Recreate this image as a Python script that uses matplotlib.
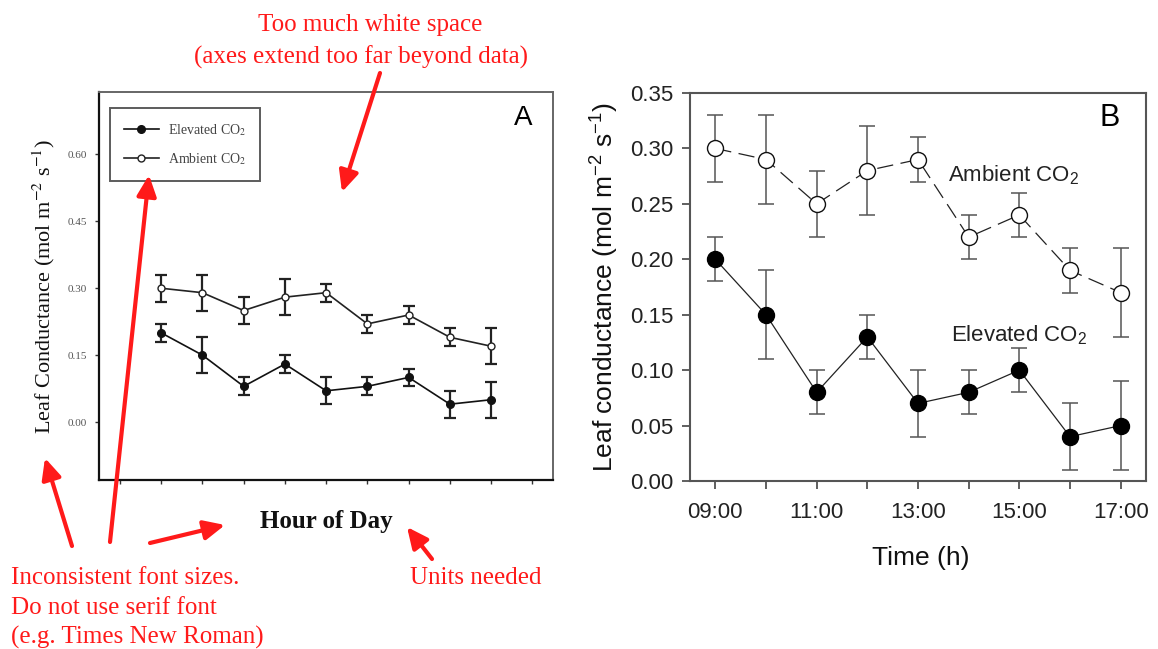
import matplotlib
matplotlib.use('Agg')
import matplotlib.pyplot as plt
from matplotlib.font_manager import FontProperties
import numpy as np

# ---------------- data ----------------
hours = [9, 10, 11, 12, 13, 14, 15, 16, 17]
hour_labels = ['09:00', '', '11:00', '', '13:00', '', '15:00', '', '17:00']
elevated = [0.20, 0.15, 0.08, 0.13, 0.07, 0.08, 0.10, 0.04, 0.05]
elevated_err = [0.02, 0.04, 0.02, 0.02, 0.03, 0.02, 0.02, 0.03, 0.04]
ambient = [0.30, 0.29, 0.25, 0.28, 0.29, 0.22, 0.24, 0.19, 0.17]
ambient_err = [0.03, 0.04, 0.03, 0.04, 0.02, 0.02, 0.02, 0.02, 0.04]
a_yticks = [0.00, 0.15, 0.30, 0.45, 0.60]
b_yticks = [0.00, 0.05, 0.10, 0.15, 0.20, 0.25, 0.30, 0.35]

SERIF = 'Liberation Serif'
SANS = 'Liberation Sans'
plt.rcParams['mathtext.fontset'] = 'custom'
plt.rcParams['mathtext.rm'] = SANS
plt.rcParams['mathtext.it'] = SANS + ':italic'
plt.rcParams['mathtext.bf'] = SANS + ':bold'

W, H = 1158, 649
fig = plt.figure(figsize=(W / 100, H / 100), dpi=100)


def rect(l, t, r, b):
    return [l / W, 1 - b / H, (r - l) / W, (b - t) / H]


# ---------------- Panel A ----------------
axA = fig.add_axes(rect(99.3, 92, 553, 480))
xa = np.arange(1, len(hours) + 1)
axA.errorbar(xa, ambient, yerr=ambient_err, fmt='none', ecolor='#222222',
             elinewidth=1.6, capsize=4.3, capthick=1.6, zorder=2)
axA.errorbar(xa, elevated, yerr=elevated_err, fmt='none', ecolor='#222222',
             elinewidth=1.6, capsize=4.3, capthick=1.6, zorder=2)
lA, = axA.plot(xa, ambient, '-o', color='#222222', lw=1.2, ms=5,
               mfc='white', mec='#222222', mew=1.0, zorder=3)
lE, = axA.plot(xa, elevated, '-o', color='#111111', lw=1.2, ms=5.5,
               mfc='#111111', mec='#111111', zorder=3)
axA.set_xlim(-0.5, len(hours) + 1.5)
axA.set_ylim(-0.13, 0.74)
axA.set_xticks(np.arange(0, len(hours) + 2))
axA.set_xticklabels([])
axA.set_yticks(a_yticks)
axA.set_yticklabels(['%.2f' % v for v in a_yticks], fontfamily=SERIF,
                    fontsize=8, color='#555555')
axA.tick_params(direction='out', length=3, width=1, colors='#333333',
                labelcolor='#555555', pad=6)
for s in ['left', 'bottom']:
    axA.spines[s].set_color('#111111')
    axA.spines[s].set_linewidth(1.6)
for s in ['top', 'right']:
    axA.spines[s].set_color('#666666')
    axA.spines[s].set_linewidth(1.4)
axA.set_ylabel('Leaf Conductance (mol m$^{-2}$ s$^{-1}$)', fontfamily=SERIF,
               fontsize=16, color='#111111', va='center', math_fontfamily='stix')
axA.yaxis.set_label_coords(-0.122, 0.5)
axA.set_xlabel('Hour of Day', fontfamily=SERIF, fontsize=18, fontweight='bold',
               color='#111111', va='center')
axA.xaxis.set_label_coords(0.5, -0.108)
leg_font = FontProperties(family=SERIF, size=10, math_fontfamily='stix')
leg = axA.legend([lE, lA], ['Elevated CO$_2$', 'Ambient CO$_2$'],
                 loc='upper left', bbox_to_anchor=(0.0236, 0.9588),
                 borderaxespad=0, frameon=True, fancybox=False,
                 edgecolor='#333333', prop=leg_font, numpoints=1,
                 handlelength=2.5, handletextpad=0.65, labelspacing=0.95,
                 borderpad=1.0, labelcolor='#444444')
leg.get_frame().set_linewidth(1.4)
axA.text(0.934, 0.933, 'A', transform=axA.transAxes, fontfamily=SANS,
         fontsize=20, ha='center', va='center', color='black')

# ---------------- Panel B ----------------
axB = fig.add_axes(rect(690, 93, 1146, 481))
axB.errorbar(hours, ambient, yerr=ambient_err, fmt='none', ecolor='#555555',
             elinewidth=1.1, capsize=6, capthick=1.1, zorder=2)
axB.errorbar(hours, elevated, yerr=elevated_err, fmt='none', ecolor='#555555',
             elinewidth=1.1, capsize=6, capthick=1.1, zorder=2)
axB.plot(hours, ambient, color='#222222', lw=0.9, ls=(0, (13, 6)),
         marker='o', ms=11.5, mfc='white', mec='#111111', mew=1.0, zorder=3)
axB.plot(hours, elevated, color='#222222', lw=0.9, ls='-',
         marker='o', ms=11.5, mfc='black', mec='black', zorder=3)
axB.set_xlim(8.5, 17.5)
axB.set_ylim(0, 0.35)
axB.set_xticks(hours)
axB.set_xticklabels(hour_labels, fontfamily=SANS, fontsize=16)
axB.set_yticks(b_yticks)
axB.set_yticklabels(['%.2f' % v for v in b_yticks], fontfamily=SANS, fontsize=16)
axB.tick_params(direction='out', length=6, width=1.2, colors='#444444',
                labelcolor='#222222')
axB.tick_params(axis='x', pad=9)
axB.tick_params(axis='y', pad=6)
for s in axB.spines.values():
    s.set_color('#555555')
    s.set_linewidth(1.5)
axB.set_ylabel('Leaf conductance (mol m$^{-2}$ s$^{-1}$)', fontfamily=SANS,
               fontsize=19, color='#111111', va='center')
axB.yaxis.set_label_coords(-0.186, 0.5)
axB.set_xlabel('Time (h)', fontfamily=SANS, fontsize=19, color='#111111',
               va='center')
axB.xaxis.set_label_coords(0.507, -0.198)
axB.text(13.6, 0.276, 'Ambient CO$_2$', fontfamily=SANS, fontsize=16,
         ha='left', va='center', color='#222222')
axB.text(13.66, 0.1317, 'Elevated CO$_2$', fontfamily=SANS, fontsize=16,
         ha='left', va='center', color='#222222')
axB.text(0.921, 0.9356, 'B', transform=axB.transAxes, fontfamily=SANS,
         fontsize=22, ha='center', va='center', color='black')

# ---------------- red annotations overlay ----------------
ov = fig.add_axes([0, 0, 1, 1], zorder=10)
ov.set_xlim(0, W)
ov.set_ylim(H, 0)
ov.axis('off')
ov.patch.set_alpha(0)
RED = '#ff1a1a'
tkw = dict(fontfamily=SERIF, fontsize=18, color=RED)
ov.text(370, 25, 'Too much white space', ha='center', va='center', **tkw)
ov.text(361, 57, '(axes extend too far beyond data)', ha='center', va='center', **tkw)
ov.text(11, 578, 'Inconsistent font sizes.', ha='left', va='center', **tkw)
ov.text(11, 608, 'Do not use serif font', ha='left', va='center', **tkw)
ov.text(11, 637, '(e.g. Times New Roman)', ha='left', va='center', **tkw)
ov.text(410, 578, 'Units needed', ha='left', va='center', **tkw)

arrows = [((380, 73), (342, 192)),
          ((72, 546), (45, 458)),
          ((110, 542), (149, 175)),
          ((150, 543), (225, 525)),
          ((432, 559), (407, 527))]
for tail, head in arrows:
    ov.annotate('', xy=head, xytext=tail,
                arrowprops=dict(arrowstyle='-|>,head_length=0.9,head_width=0.42',
                                color=RED, lw=3, shrinkA=0, shrinkB=0,
                                mutation_scale=14))

fig.savefig('out.png', dpi=100)
